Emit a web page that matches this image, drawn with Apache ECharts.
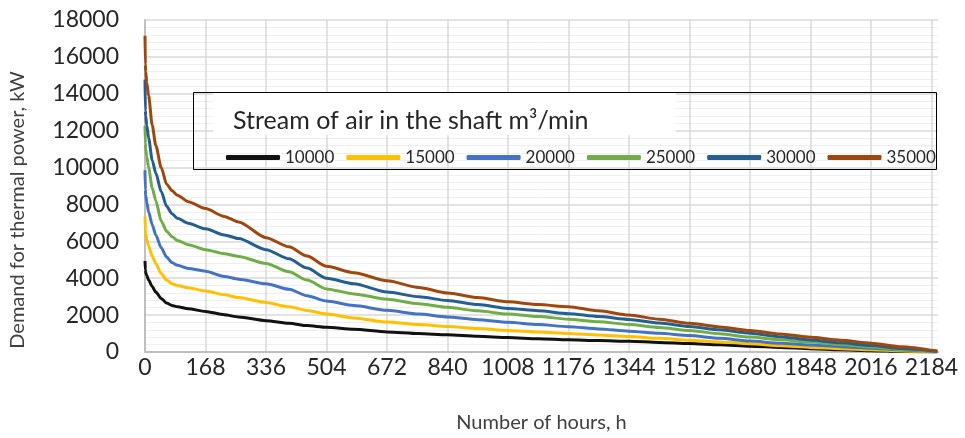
<!DOCTYPE html>
<html>
<head>
<meta charset="utf-8">
<script src="https://cdn.jsdelivr.net/npm/echarts@6/dist/echarts.min.js"></script>
<style>
html,body{margin:0;padding:0;background:#fff;}
#chart{width:965px;height:438px;}
</style>
</head>
<body>
<div id="chart"></div>
<script>
const hours = [0,1,2,5,10,20,30,45,60,75,90,120,168,220,260,336,400,450,504,580,672,760,840,924,1008,1092,1176,1260,1344,1428,1512,1596,1680,1764,1848,1932,2016,2100,2200];
const s10000 = [4930,4450,4300,4150,3900,3550,3250,2900,2650,2520,2450,2340,2200,2020,1900,1700,1560,1430,1340,1230,1090,1000,930,850,780,720,660,620,580,520,460,390,310,250,180,120,70,30,0];
const s15000 = [7340,6600,6400,6100,5750,5200,4800,4250,3900,3700,3600,3480,3310,3100,2950,2680,2450,2250,2060,1850,1630,1490,1380,1270,1170,1080,1000,920,840,740,640,540,450,340,250,180,120,60,10];
const s20000 = [9850,8800,8500,8100,7600,6900,6350,5650,5150,4850,4700,4530,4380,4100,3950,3700,3400,3050,2760,2520,2260,2060,1900,1750,1610,1490,1370,1250,1130,1010,890,740,590,480,380,290,210,110,20];
const s25000 = [12270,11300,11000,10600,10000,8900,8200,7100,6550,6250,6050,5820,5550,5330,5180,4800,4350,3900,3420,3150,2860,2620,2420,2230,2060,1920,1780,1640,1490,1330,1165,990,810,660,540,400,270,140,25];
const s30000 = [14775,13100,12800,12300,11600,10400,9700,8700,7900,7500,7250,6980,6680,6350,6150,5550,5050,4550,4000,3700,3250,3000,2790,2570,2360,2240,2080,1920,1760,1570,1380,1200,1020,830,650,500,350,190,35];
const s35000 = [17150,15600,15200,14600,13900,12300,11200,10000,9100,8750,8500,8150,7780,7350,7050,6200,5700,5200,4650,4300,3860,3500,3200,2950,2720,2570,2450,2230,2000,1780,1560,1360,1170,980,800,640,480,290,50];
const seriesNames = ['10000','15000','20000','25000','30000','35000'];
const seriesValues = [s10000,s15000,s20000,s25000,s30000,s35000];
const colors = ['#111111','#ffc000','#4472c4','#70ad47','#255e91','#9e480e'];
const xTickStep = 168;
const yTickStep = 2000;
const legendTitle = 'Stream of air in the shaft m\u00B3/min';
const xName = 'Number of hours, h';
const yName = 'Demand for thermal power, kW';

const FONT = 'Lato';
const chart = echarts.init(document.getElementById('chart'), null, {renderer:'canvas'});
const option = {
  animation: false,
  backgroundColor: '#ffffff',
  color: colors,
  textStyle: {fontFamily: FONT},
  grid: {left: 145, right: 27, top: 20, bottom: 83, containLabel: false},
  legend: {
    data: seriesNames,
    left: 226, top: 149,
    itemWidth: 54, itemHeight: 5, itemGap: 12,
    icon: 'roundRect',
    textStyle: {fontFamily: FONT, fontSize: 17, color: '#262626'},
    padding: 0
  },
  graphic: [
    {type: 'rect', z: 1, shape: {x: 213, y: 93, width: 463, height: 42}, style: {fill: '#ffffff'}},
    {type: 'rect', z: 3, shape: {x: 193.5, y: 92.5, width: 743, height: 77}, style: {fill: 'none', stroke: '#000000', lineWidth: 1}},
    {type: 'text', z: 3, x: 233, y: 133, style: {text: legendTitle, font: '25px ' + FONT, fill: '#262626', textVerticalAlign: 'bottom'}},
    {type: 'text', z: 3, x: 18, y: 210, rotation: Math.PI/2, style: {text: yName, font: '20px ' + FONT, fill: '#404040', textAlign: 'center', textVerticalAlign: 'middle'}}
  ],
  xAxis: {
    type: 'value', min: 0, max: 2202, interval: xTickStep,
    name: xName, nameLocation: 'middle', nameGap: 61,
    nameTextStyle: {fontFamily: FONT, fontSize: 20, color: '#404040'},
    axisLine: {show: true, lineStyle: {color: '#bfbfbf', width: 2}},
    axisTick: {show: false},
    axisLabel: {fontFamily: FONT, fontSize: 23, color: '#262626', margin: 4, showMaxLabel: false,
      formatter: v => (v % xTickStep === 0 ? String(v) : '')},
    splitLine: {show: true, showMaxLine: false, lineStyle: {color: '#d9d9d9', width: 1.5}}
  },
  yAxis: {
    type: 'value', min: 0, max: 18000, interval: yTickStep,
    axisLine: {show: true, lineStyle: {color: '#bfbfbf', width: 2}},
    axisTick: {show: false},
    axisLabel: {fontFamily: FONT, fontSize: 23, color: '#262626', margin: 26, formatter: v => String(v)},
    splitLine: {show: true, lineStyle: {color: '#d9d9d9', width: 1.5}},
    minorTick: {show: false, splitNumber: 5},
    minorSplitLine: {show: true, lineStyle: {color: '#efefef', width: 1}}
  },
  series: seriesNames.map((n, k) => ({
    name: n, type: 'line', showSymbol: false, symbol: 'none',
    smooth: 0.25, smoothMonotone: 'x',
    lineStyle: {width: 3, color: colors[k]},
    itemStyle: {color: colors[k]},
    data: hours.map((h, i) => [h, seriesValues[k][i]])
  }))
};
chart.setOption(option);
</script>
</body>
</html>
